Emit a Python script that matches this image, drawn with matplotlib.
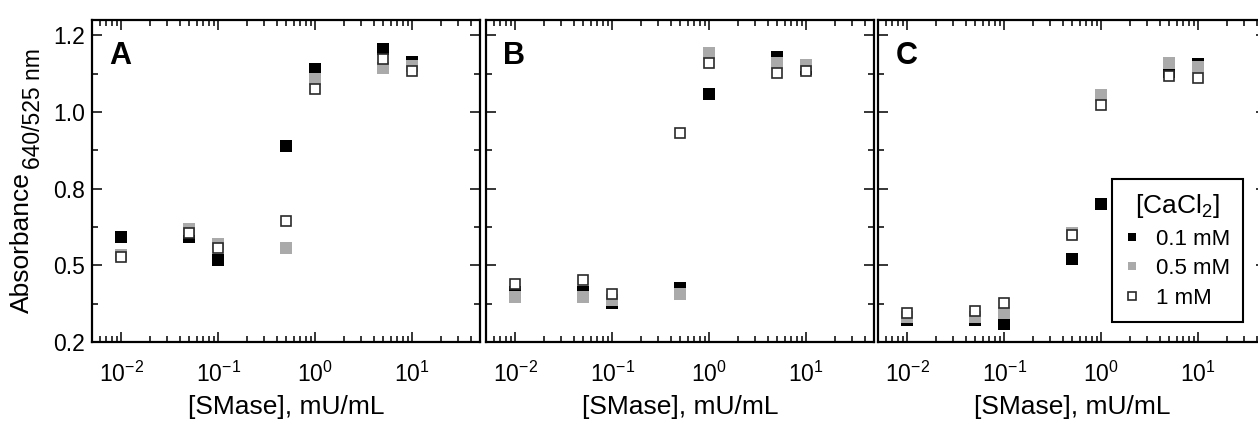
import numpy as np
import matplotlib
matplotlib.use("Agg")
import matplotlib.pyplot as plt
from matplotlib.ticker import MultipleLocator, FormatStrFormatter, LogLocator

plt.rcParams['font.family'] = ['Liberation Sans', 'DejaVu Sans']
plt.rcParams['mathtext.default'] = 'regular'

# SMase concentration, mU/mL
smase = [0.01, 0.05, 0.1, 0.5, 1, 5, 10]

# absorbance ratio 640/525 nm per CaCl2 concentration, one set per panel
a_01 = [0.593, 0.593, 0.517, 0.888, 1.139, 1.207, 1.163]
a_05 = [0.535, 0.619, 0.569, 0.556, 1.109, 1.145, 1.150]
a_1 = [0.528, 0.605, 0.556, 0.645, 1.076, 1.172, 1.133]

b_01 = [0.414, 0.412, 0.376, 0.425, 1.060, 1.180, 1.140]
b_05 = [0.397, 0.397, 0.386, 0.408, 1.191, 1.161, 1.152]
b_1 = [0.439, 0.452, 0.408, 0.930, 1.159, 1.128, 1.133]

c_01 = [0.321, 0.322, 0.310, 0.522, 0.700, 1.130, 1.155]
c_05 = [0.330, 0.330, 0.345, 0.604, 1.054, 1.161, 1.148]
c_1 = [0.345, 0.350, 0.378, 0.600, 1.024, 1.119, 1.112]

panels = ["A", "B", "C"]
series = [(a_01, a_05, a_1), (b_01, b_05, b_1), (c_01, c_05, c_1)]
labels = ["0.1 mM", "0.5 mM", "1 mM"]

W, H = 1258, 423
fig = plt.figure(figsize=(W / 100, H / 100), dpi=100)
lefts = [92 / W, 486 / W, 878 / W]
w = 388 / W
bottom = 81 / H
h = 322 / H

for i, (name, (s01, s05, s1)) in enumerate(zip(panels, series)):
    ax = fig.add_axes([lefts[i], bottom, w, h])
    ax.plot(smase, s01, 's', ms=8, mfc='black', mec='black', mew=0, label=labels[0])
    ax.plot(smase, s05, 's', ms=8, mfc='#aaaaaa', mec='#aaaaaa', mew=0, label=labels[1])
    ax.plot(smase, s1, 's', ms=7.2, mfc='white', mec='#2a2a2a', mew=1.2, label=labels[2])
    ax.set_xscale('log')
    ax.set_xlim(0.005, 50)
    ax.set_ylim(0.25, 1.30)
    ax.yaxis.set_major_locator(MultipleLocator(0.25))
    ax.yaxis.set_minor_locator(MultipleLocator(0.125))
    ax.yaxis.set_major_formatter(FormatStrFormatter('%.1f'))
    ax.xaxis.set_major_locator(LogLocator(base=10, numticks=10))
    ax.xaxis.set_minor_locator(LogLocator(base=10, subs=np.arange(2, 10), numticks=10))
    ax.tick_params(which='both', direction='in', top=True, right=True, width=1.1)
    ax.tick_params(which='major', length=7.5, labelsize=16.5)
    ax.tick_params(axis='x', which='major', pad=14)
    ax.tick_params(axis='y', which='major', pad=5)
    ax.tick_params(which='minor', length=4)
    if i > 0:
        ax.tick_params(axis='y', labelleft=False)
    for sp in ax.spines.values():
        sp.set_linewidth(1.6)
    ax.set_xlabel('[SMase], mU/mL', fontsize=19, labelpad=6)
    ax.text(0.045, 0.935, name, transform=ax.transAxes, fontsize=22,
            fontweight='bold', va='top', ha='left')
    if i == 2:
        leg = ax.legend(title='[CaCl$_2$]', loc='lower right',
                        bbox_to_anchor=(0.941, 0.062), fontsize=16,
                        title_fontsize=19, fancybox=False, framealpha=1,
                        edgecolor='black', markerscale=0.75, handlelength=0.6,
                        handletextpad=0.75, borderpad=0.6, labelspacing=0.38,
                        borderaxespad=0)
        leg.get_frame().set_linewidth(1.5)

# y label with a large subscript, built from two rotated texts
fig.text(22 / W, (H - 313) / H, 'Absorbance', rotation=90, fontsize=19,
         ha='center', va='bottom')
fig.text(33 / W, (H - 169) / H, '640/525 nm', rotation=90, fontsize=16.5,
         ha='center', va='bottom')

fig.savefig('out.png', dpi=100)
